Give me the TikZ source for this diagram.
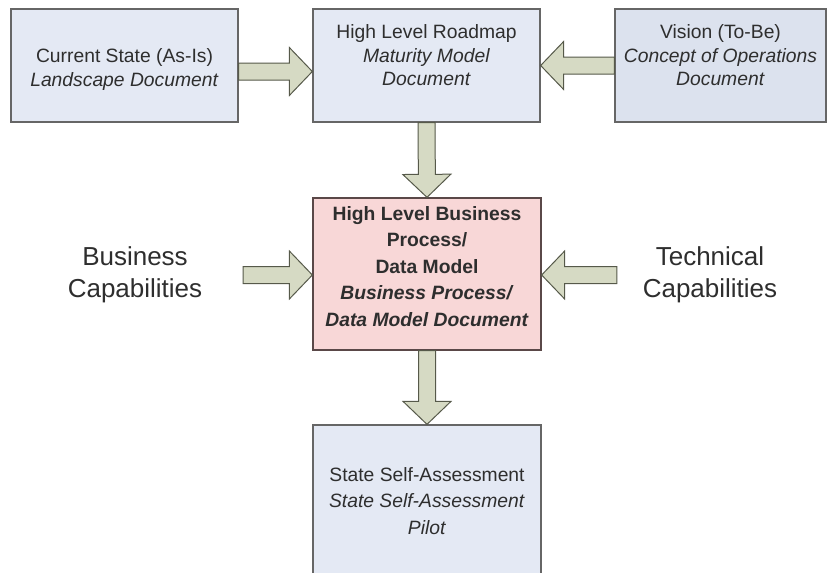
\documentclass[tikz,border=0pt]{standalone}
\usepackage{fontspec}
\setmainfont{Liberation Sans}
\usetikzlibrary{calc}
\definecolor{boxblue}{HTML}{E4E9F4}
\definecolor{boxblue2}{HTML}{DCE2EE}
\definecolor{boxpink}{HTML}{F8D7D7}
\definecolor{boxline}{HTML}{666666}
\definecolor{pinkline}{HTML}{5A4848}
\definecolor{arrowfill}{HTML}{D6DAC4}
\definecolor{arrowline}{HTML}{56594A}
\definecolor{txt}{HTML}{2E2E2E}
\tikzset{b/.style={draw=boxline, line width=1.3pt, fill=boxblue, text=txt, align=center,
  font=\fontsize{19.3}{23.5}\selectfont, inner sep=0pt}}
\tikzset{lbl/.style={text=txt, align=center, font=\fontsize{26}{32}\selectfont, inner sep=0pt}}
\tikzset{fat/.style={draw=arrowline, fill=arrowfill, line width=1pt, line join=miter,
  to path={($(\tikztostart)!8.5pt!90:(\tikztotarget)$)
    -- ($(\tikztotarget)!23pt!(\tikztostart)!8.5pt!-90:(\tikztostart)$)
    -- ($(\tikztotarget)!23pt!(\tikztostart)!24pt!-90:(\tikztostart)$)
    -- (\tikztotarget)
    -- ($(\tikztotarget)!23pt!(\tikztostart)!24pt!90:(\tikztostart)$)
    -- ($(\tikztotarget)!23pt!(\tikztostart)!8.5pt!90:(\tikztostart)$)
    -- ($(\tikztostart)!8.5pt!-90:(\tikztotarget)$) -- cycle}}}
\begin{document}
\begin{tikzpicture}[x=1pt,y=-1pt]
  \useasboundingbox (0,0) rectangle (836,573);
  \node[b, minimum width=227pt, minimum height=113pt, text height=46pt] (CUR) at (124.5,65.5)
    {Current State (As-Is)\\ \textit{Landscape Document}};
  \node[b, minimum width=227pt, minimum height=113pt, text depth=20pt] (MAP) at (426.5,65.5)
    {High Level Roadmap\\ \textit{Maturity Model}\\ \textit{Document}};
  \node[b, fill=boxblue2, minimum width=211pt, minimum height=113pt, text depth=20pt] (VIS) at (720.5,65.5)
    {Vision (To-Be)\\ \textit{Concept of Operations}\\ \textit{Document}};
  \node[b, fill=boxpink, draw=pinkline, minimum width=228pt, minimum height=152pt,
    font=\bfseries\fontsize{19.3}{26.5}\selectfont, text depth=15pt] (BPDM) at (427,274)
    {High Level Business\\ Process/\\ Data Model\\ \textit{Business Process/}\\ \textit{Data Model Document}};
  \node[b, minimum width=228pt, minimum height=152pt,
    font=\fontsize{19.3}{26.5}\selectfont] (SSA) at (427,501)
    {State Self-Assessment\\ \textit{State Self-Assessment}\\ \textit{Pilot}};
  \node[lbl, minimum width=216pt] (BUS) at (135,275) {Business\\ Capabilities};
  \node[lbl, minimum width=186pt] (TECH) at (710,275) {Technical\\ Capabilities};
  % block arrows
  \draw[fat] ([yshift=-6pt]CUR.east) to ([yshift=-6pt]MAP.west);
  \draw[fat] (VIS.west) to (MAP.east);
  \draw[fat] (MAP.south) to (BPDM.north);
  \draw[fat] (BUS.east) to ([yshift=-1pt]BPDM.west);
  \draw[fat] (TECH.west) to ([yshift=-1pt]BPDM.east);
  \draw[fat] (BPDM.south) to (SSA.north);
\end{tikzpicture}
\end{document}
